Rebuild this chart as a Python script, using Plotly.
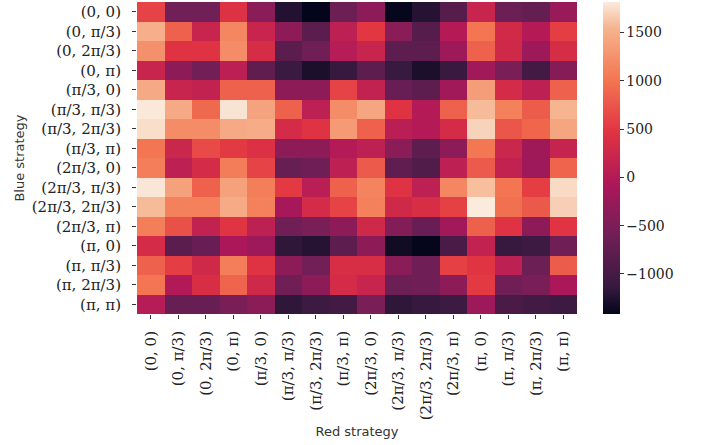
import plotly.graph_objects as go

strategies = [
    "(0, 0)", "(0, π/3)", "(0, 2π/3)", "(0, π)",
    "(π/3, 0)", "(π/3, π/3)", "(π/3, 2π/3)", "(π/3, π)",
    "(2π/3, 0)", "(2π/3, π/3)", "(2π/3, 2π/3)", "(2π/3, π)",
    "(π, 0)", "(π, π/3)", "(π, 2π/3)", "(π, π)",
]

# Payoff for each (Blue strategy, Red strategy) pair; rows = Blue, columns = Red
payoff_00 = [600, -600, -600, 430, -380, -1250, -1415, -650, -350, -1400, -1230, -850, 200, -650, -720, -250]
payoff_0_pi3 = [1500, 850, 200, 1150, 200, -350, -800, 100, 500, -380, -850, 0, 1000, 300, 0, 550]
payoff_0_2pi3 = [1230, 450, 450, 1200, 350, -800, -620, 20, 200, -780, -780, -200, 850, 280, -200, 350]
payoff_0_pi = [200, -350, -580, 80, -750, -1100, -1280, -1130, -770, -1120, -1280, -1110, -170, -530, -1020, -420]
payoff_pi3_0 = [1450, 200, 150, 850, 850, -350, -350, 600, 150, -680, -780, -170, 1350, 330, 100, 850]
payoff_pi3_pi3 = [1800, 1450, 900, 1780, 1400, 850, 100, 1200, 1420, 450, 0, 850, 1580, 1100, 800, 1550]
payoff_pi3_2pi3 = [1750, 1200, 1200, 1450, 1480, 330, 450, 1320, 850, 60, 0, 330, 1700, 750, 880, 1420]
payoff_pi3_pi = [1000, 230, 650, 520, 420, -350, -350, 0, 100, -380, -780, -350, 1020, 230, -190, 180]
payoff_2pi3_0 = [1080, 100, 330, 1070, 600, -700, -620, 100, 780, -760, -880, 100, 780, 150, -200, 860]
payoff_2pi3_pi3 = [1790, 1380, 850, 1380, 1080, 520, 60, 850, 1130, 450, 100, 1150, 1600, 1000, 550, 1730]
payoff_2pi3_2pi3 = [1580, 1100, 1100, 1470, 1100, -130, 330, 600, 1100, 280, 370, 580, 1815, 960, 770, 1680]
payoff_2pi3_pi = [1080, 700, 150, 480, 100, -620, -520, -350, 280, -450, -680, -170, 830, 450, -350, 470]
payoff_pi_0 = [330, -800, -680, -80, -200, -1180, -1230, -780, -350, -1340, -1405, -950, 150, -1130, -1070, -620]
payoff_pi_pi3 = [850, 550, 280, 1080, 450, -350, -580, 370, 370, -380, -620, 580, 480, 100, -650, 800]
payoff_pi_2pi3 = [1000, -30, 370, 860, 280, -620, -350, 330, 200, -650, -620, -350, 520, -620, -520, -80]
payoff_pi_pi = [20, -700, -700, -520, -380, -1180, -1070, -1020, -520, -1180, -1130, -1070, -200, -950, -1020, -1080]

payoff = [
    payoff_00, payoff_0_pi3, payoff_0_2pi3, payoff_0_pi,
    payoff_pi3_0, payoff_pi3_pi3, payoff_pi3_2pi3, payoff_pi3_pi,
    payoff_2pi3_0, payoff_2pi3_pi3, payoff_2pi3_2pi3, payoff_2pi3_pi,
    payoff_pi_0, payoff_pi_pi3, payoff_pi_2pi3, payoff_pi_pi,
]

# seaborn "rocket" colour map
rocket = [
    [0.0, "#03051a"],
    [0.083, "#35193e"],
    [0.25, "#701f57"],
    [0.417, "#ad1759"],
    [0.583, "#e13342"],
    [0.75, "#f37651"],
    [0.917, "#f6b48f"],
    [1.0, "#faebdd"],
]

serif = "DejaVu Serif"
sans = "DejaVu Sans"

fig = go.Figure(
    go.Heatmap(
        z=payoff,
        x=strategies,
        y=strategies,
        colorscale=rocket,
        xgap=0,
        ygap=0,
        colorbar=dict(
            x=1.059,
            xanchor="left",
            xpad=0,
            y=0.5,
            yanchor="middle",
            len=1.0,
            lenmode="fraction",
            ypad=0,
            thickness=17,
            outlinewidth=0,
            ticks="outside",
            ticklen=4,
            tickwidth=1,
            tickcolor="#333",
            tickvals=[-1000, -500, 0, 500, 1000, 1500],
            ticktext=["−1000", "−500", "0", "500", "1000", "1500"],
            tickfont=dict(family=serif, size=14, color="#222"),
        ),
    )
)

fig.update_layout(
    width=701,
    height=445,
    margin=dict(l=137, r=124, t=2, b=131),
    paper_bgcolor="white",
    plot_bgcolor="white",
    xaxis=dict(
        tickangle=-90,
        tickfont=dict(family=serif, size=15, color="#222"),
        ticks="outside",
        ticklen=4,
        tickcolor="#333",
        ticklabelstandoff=6,
        showgrid=False,
        zeroline=False,
        title=dict(text="Red strategy", font=dict(family=sans, size=13, color="#333"), standoff=7),
    ),
    yaxis=dict(
        autorange="reversed",
        tickfont=dict(family=serif, size=15, color="#222"),
        ticks="outside",
        ticklen=4,
        tickcolor="#333",
        ticklabelstandoff=8,
        showgrid=False,
        zeroline=False,
        title=dict(text="Blue strategy", font=dict(family=sans, size=13, color="#333"), standoff=4),
    ),
)

fig.write_html("out.html")
